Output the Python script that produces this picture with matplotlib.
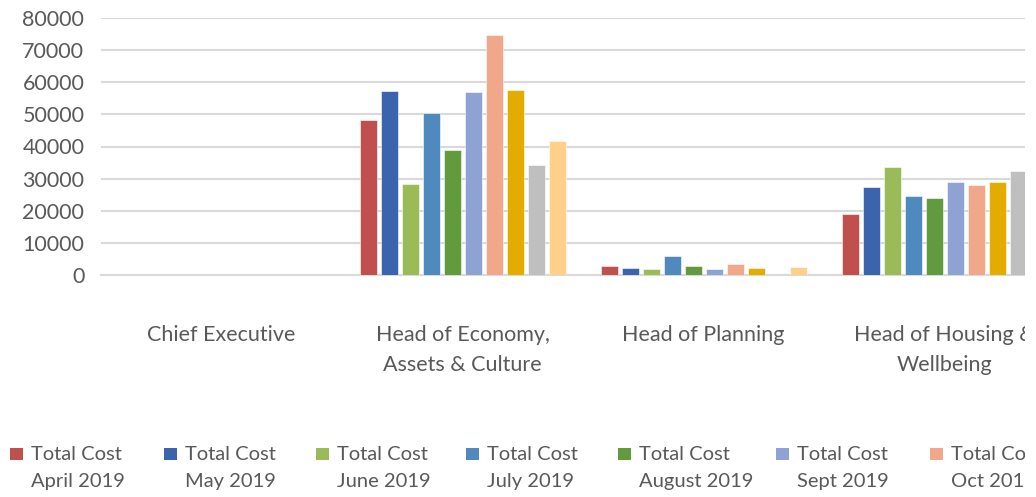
import matplotlib.pyplot as plt
import numpy as np
from matplotlib.patches import Rectangle

plt.rcParams['font.family'] = ['Lato', 'DejaVu Sans']

categories = ['Chief Executive', 'Head of Economy,\nAssets & Culture',
              'Head of Planning', 'Head of Housing &\nWellbeing']
series_names = ['Total Cost\nApril 2019', 'Total Cost\nMay 2019', 'Total Cost\nJune 2019',
                'Total Cost\nJuly 2019', 'Total Cost\nAugust 2019', 'Total Cost\nSept 2019',
                'Total Cost\nOct 2019', 'Total Cost\nNov 2019', 'Total Cost\nDec 2019',
                'Total Cost\nJan 2020']
colors = ['#C0504D', '#3C64AD', '#9BBB59', '#4F89BD', '#629A3E',
          '#8FA2D4', '#F1A78A', '#E2AC00', '#BFBFBF', '#FFD08A']

# one list per month: Chief Exec, Economy, Planning, Housing
apr = [0, 48300, 2800, 19000]
may = [0, 57300, 2100, 27500]
jun = [0, 28300, 1900, 33600]
jul = [0, 50400, 5900, 24700]
aug = [0, 38900, 2800, 24000]
sep = [0, 57100, 1800, 28900]
oct_ = [0, 74700, 3400, 28000]
nov = [0, 57500, 2300, 28900]
dec = [0, 34300, 0, 32400]
jan = [0, 41800, 2500, 31000]
values = [apr, may, jun, jul, aug, sep, oct_, nov, dec, jan]

yticks = np.arange(0, 80001, 10000)

W, H = 1036, 497
fig = plt.figure(figsize=(W / 100, H / 100), dpi=100)
group_px = 241
ax = fig.add_axes((101 / W, 222 / H, 4 * group_px / W, 257 / H))

text_color = '#595959'
grid_color = '#D9D9D9'
slot = 21 / group_px
bar_w = 17 / group_px
x = np.arange(len(categories))
n = len(values)
for j, (vals, col) in enumerate(zip(values, colors)):
    ax.bar(x + (j - (n - 1) / 2) * slot, vals, width=bar_w, color=col,
           edgecolor='white', linewidth=0.4, zorder=3)

ax.set_xlim(-0.5, len(categories) - 0.5)
ax.set_ylim(0, 80000)
ax.set_yticks(yticks)
ax.set_yticklabels([str(v) for v in yticks])
ax.set_xticks(x)
ax.set_xticklabels(categories)
for t in ax.get_xticklabels():
    t.set_linespacing(1.6)
ax.grid(axis='y', color=grid_color, linewidth=1.5, zorder=0)
for s in ['top', 'right', 'left']:
    ax.spines[s].set_visible(False)
ax.spines['bottom'].set_color(grid_color)
ax.spines['bottom'].set_linewidth(1.5)
ax.tick_params(axis='y', length=0, pad=12, labelsize=15.5, labelcolor=text_color)
ax.tick_params(axis='x', length=0, pad=36, labelsize=15.5, labelcolor=text_color)

# legend laid out in fixed columns like the original
leg_x = [10, 164, 316, 466, 618, 776, 930, 1084, 1238, 1392]
for j, (name, col) in enumerate(zip(series_names, colors)):
    fig.add_artist(Rectangle((leg_x[j] / W, (H - 460) / H), 13 / W, 12 / H,
                             transform=fig.transFigure, color=col, lw=0))
    fig.text((leg_x[j] + 21) / W, (H - 446) / H, name, ha='left', va='top',
             fontsize=14.5, color=text_color, linespacing=1.73)

# the original picture is cut off at the right edge
fig.add_artist(Rectangle((1025 / W, 0), 1, 1, transform=fig.transFigure,
                         color='white', lw=0, zorder=10))

fig.savefig('out.png', dpi=100)
